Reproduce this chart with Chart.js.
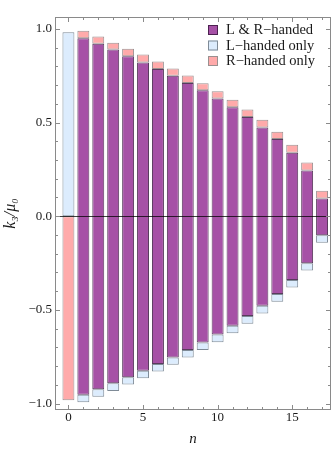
<!DOCTYPE html>
<html>
<head>
<meta charset="utf-8">
<script src="https://cdn.jsdelivr.net/npm/chart.js@4.4.1/dist/chart.umd.min.js"></script>
<style>
	html, body { margin:0; padding:0; background:#fff; }
	canvas { display:block; }
</style>
</head>
<body>
<canvas id="chart" width="332" height="450"></canvas>
<script>
	// values
	const nValues = [1,2,3,4,5,6,7,8,9,10,11,12,13,14,15,16,17];
	const bothTop = [0.949,0.920,0.890,0.854,0.820,0.786,0.749,0.711,0.672,0.628,0.581,0.530,0.474,0.412,0.339,0.244,0.095];
	const bothBottom = [-0.953,-0.923,-0.891,-0.859,-0.825,-0.789,-0.754,-0.714,-0.674,-0.631,-0.584,-0.533,-0.478,-0.415,-0.340,-0.251,-0.101];
	const rOnlyTop = [0.989,0.959,0.925,0.893,0.863,0.826,0.788,0.751,0.710,0.667,0.622,0.569,0.515,0.451,0.382,0.286,0.136];
	const lOnlyBottom = [-0.993,-0.963,-0.932,-0.898,-0.864,-0.829,-0.793,-0.754,-0.714,-0.672,-0.624,-0.574,-0.519,-0.456,-0.380,-0.289,-0.141];
	const zeroModeL = 0.981;   // n = 0, L-handed only
	const zeroModeR = -0.982;  // n = 0, R-handed only

	const xTickLabels = [0,5,10,15];
	const yTickLabels = [-1,-0.5,0,0.5,1];
	const legendLabels = ['L & R\u2212handed','L\u2212handed only','R\u2212handed only'];

	const SERIF = "'Liberation Serif','DejaVu Serif',serif";
	const purple = '#a651a6', blue = '#dcecfd', pink = '#ffaaaa';

	const bothData = nValues.map((n,i)=>({ x:n, y:[bothBottom[i], bothTop[i]] }));
	const lData = [{ x:0, y:[0, zeroModeL] }].concat(nValues.map((n,i)=>({ x:n, y:[lOnlyBottom[i], bothBottom[i]] })));
	const rData = [{ x:0, y:[zeroModeR, 0] }].concat(nValues.map((n,i)=>({ x:n, y:[bothTop[i], rOnlyTop[i]] })));

	const barCommon = { grouped:false, categoryPercentage:1, barPercentage:0.8, borderWidth:1, borderSkipped:false };

	// Mathematica-style frame with inward ticks, zero line and legend
	const framePlugin = {
		id:'frame',
		afterDatasetsDraw(chart){
			const {ctx, chartArea:a, scales:{x, y}} = chart;
			ctx.save();
			// zero line
			ctx.strokeStyle = 'rgba(0,0,0,0.75)';
			ctx.lineWidth = 1;
			ctx.beginPath();
			const y0 = Math.round(y.getPixelForValue(0)) + 0.5;
			ctx.moveTo(a.left, y0); ctx.lineTo(a.right, y0);
			ctx.stroke();
			// frame
			ctx.strokeStyle = '#8a8a8a';
			ctx.strokeRect(a.left + 0.5, a.top + 0.5, a.right - a.left - 1, a.bottom - a.top - 1);
			ctx.beginPath();
			for (let n = 0; n <= 17; n++) {
				const px = Math.round(x.getPixelForValue(n)) + 0.5;
				const len = n % 5 === 0 ? 5 : 3;
				ctx.moveTo(px, a.bottom); ctx.lineTo(px, a.bottom - len);
				ctx.moveTo(px, a.top); ctx.lineTo(px, a.top + len);
			}
			for (let k = -10; k <= 10; k++) {
				const py = Math.round(y.getPixelForValue(k / 10)) + 0.5;
				const len = k % 5 === 0 ? 5 : 3;
				ctx.moveTo(a.left, py); ctx.lineTo(a.left + len, py);
				ctx.moveTo(a.right, py); ctx.lineTo(a.right - len, py);
			}
			ctx.stroke();
			// legend
			ctx.font = '14.5px ' + SERIF;
			ctx.textBaseline = 'middle';
			ctx.textAlign = 'left';
			chart.data.datasets.forEach((ds, i)=>{
				const cy = 30 + i * 15.5;
				ctx.fillStyle = ds.backgroundColor;
				ctx.fillRect(208, cy - 5, 10, 10);
				ctx.strokeStyle = ds.borderColor;
				ctx.strokeRect(208.5, cy - 4.5, 9, 9);
				ctx.fillStyle = '#1a1a1a';
				ctx.fillText(ds.label, 226, cy + 0.5);
			});
			ctx.restore();
		}
	};

	new Chart(document.getElementById('chart'), {
		type:'bar',
		data:{
			datasets:[
				{ label:legendLabels[0], data:bothData, backgroundColor:purple, borderColor:'rgba(60,25,65,0.85)', order:0, ...barCommon },
				{ label:legendLabels[1], data:lData, backgroundColor:blue, borderColor:'#7f8b97', order:1, ...barCommon },
				{ label:legendLabels[2], data:rData, backgroundColor:pink, borderColor:'#9a9090', order:2, ...barCommon }
			]
		},
		options:{
			responsive:false,
			animation:false,
			layout:{ padding:{ top:17, right:1, left:0, bottom:0 } },
			plugins:{ legend:{ display:false }, tooltip:{ enabled:false } },
			scales:{
				x:{
					type:'linear', min:-0.9, max:17.6, offset:false,
					grid:{ display:false, drawTicks:false }, border:{ display:false },
					afterBuildTicks: s => { s.ticks = xTickLabels.map(v=>({ value:v })); },
					afterFit: s => { s.height = 40; },
					ticks:{ autoSkip:false, maxRotation:0, padding:0, color:'#1a1a1a', font:{ family:SERIF, size:13 }, callback: v => String(v) },
					title:{ display:true, text:'n', color:'#1a1a1a', font:{ family:SERIF, size:15, style:'italic' }, padding:{ top:0, bottom:2 } }
				},
				y:{
					min:-1.034, max:1.063,
					grid:{ display:false, drawTicks:false }, border:{ display:false },
					afterBuildTicks: s => { s.ticks = yTickLabels.map(v=>({ value:v })); },
					afterFit: s => { s.width = 55; },
					ticks:{ padding:3, color:'#1a1a1a', font:{ family:SERIF, size:13 },
						callback: v => (v < 0 ? '\u2212' : '') + Math.abs(v).toFixed(1) },
					title:{ display:true, text:'k\u2083/\u03bc\u2080', color:'#1a1a1a', font:{ family:SERIF, size:16, style:'italic' }, padding:{ top:1, bottom:0 } }
				}
			}
		},
		plugins:[framePlugin]
	});
</script>
</body>
</html>
